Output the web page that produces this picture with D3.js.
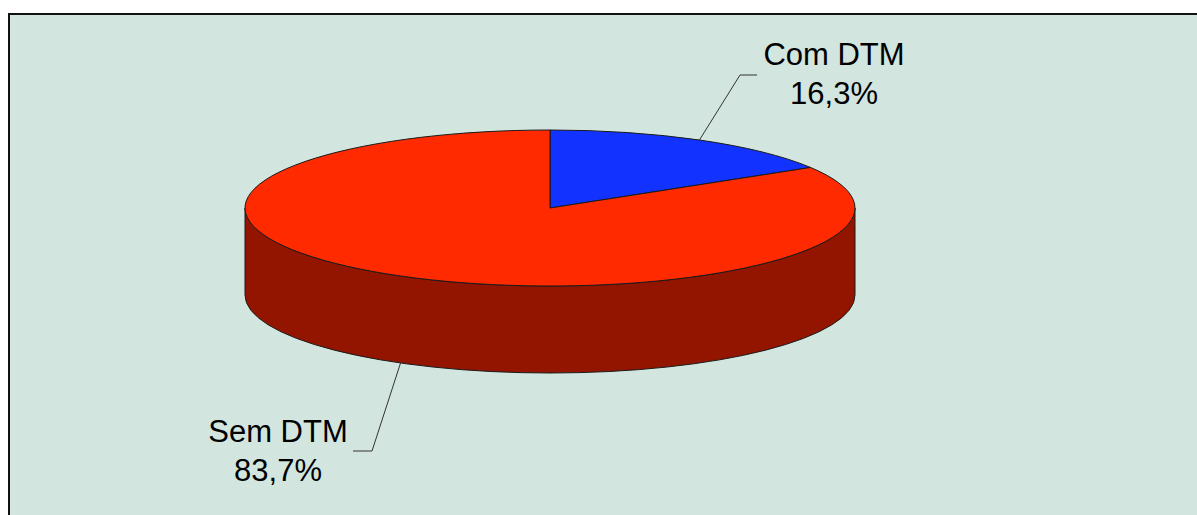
<!DOCTYPE html>
<html>
<head>
<meta charset="utf-8">
<script src="https://cdn.jsdelivr.net/npm/d3@7"></script>
<style>
  html, body { margin: 0; padding: 0; background: #ffffff; }
  svg { display: block; }
  text { font-family: "Liberation Sans", Arial, sans-serif; }
</style>
</head>
<body>
<svg id="chart" width="1197" height="515"></svg>
<script>
// Share of cases with and without DTM
const categories = ["Com DTM", "Sem DTM"];
const values = [16.3, 83.7];
const valueLabels = ["16,3%", "83,7%"];

const topColors = ["#1233FF", "#FF2A00"];
const sideColors = ["#0A1E99", "#931500"];

const W = 1197, H = 515;
const svg = d3.select("#chart");

// chart area frame
svg.append("rect")
  .attr("x", 9).attr("y", 14)
  .attr("width", W + 20).attr("height", H + 20)
  .attr("fill", "#D3E5DF")
  .attr("stroke", "#111").attr("stroke-width", 2);

// 3D pie geometry: ellipse of the top face and the thickness of the disc
const cx = 550, cy = 208, rx = 305, ry = 78, depth = 87;

const pie = d3.pie().sort(null).value(d => d.value);
const arcs = pie(categories.map((c, i) => ({ name: c, value: values[i], i })));

// angle measured clockwise from 12 o'clock
const pt = (a, dy = 0) => [cx + rx * Math.sin(a), cy - ry * Math.cos(a) + dy];

function topPath(s, e) {
  const p0 = pt(s), p1 = pt(e);
  const large = (e - s) > Math.PI ? 1 : 0;
  return `M${cx},${cy}L${p0[0]},${p0[1]}A${rx},${ry} 0 ${large} 1 ${p1[0]},${p1[1]}Z`;
}

function sidePath(s, e) {
  const a = Math.max(s, Math.PI / 2), b = Math.min(e, 3 * Math.PI / 2);
  if (b <= a) return null;
  const p0 = pt(a), p1 = pt(b), q1 = pt(b, depth), q0 = pt(a, depth);
  const large = (b - a) > Math.PI ? 1 : 0;
  return `M${p0[0]},${p0[1]}A${rx},${ry} 0 ${large} 1 ${p1[0]},${p1[1]}` +
         `L${q1[0]},${q1[1]}A${rx},${ry} 0 ${large} 0 ${q0[0]},${q0[1]}Z`;
}

const g = svg.append("g");

// outer walls (front half only)
arcs.forEach(d => {
  const p = sidePath(d.startAngle, d.endAngle);
  if (p) g.append("path").attr("d", p)
    .attr("fill", sideColors[d.data.i])
    .attr("stroke", "#1a1a1a").attr("stroke-width", 1)
    .attr("stroke-linejoin", "round");
});

// top faces
arcs.forEach(d => {
  g.append("path").attr("d", topPath(d.startAngle, d.endAngle))
    .attr("fill", topColors[d.data.i])
    .attr("stroke", "#1a1a1a").attr("stroke-width", 1)
    .attr("stroke-linejoin", "round");
});

// labels with leader lines
const labelLayout = [
  { elbow: [740, 75], end: [757, 75], tx: 834, ty: 65, onTop: true },
  { elbow: [372, 451], end: [353, 451], tx: 278, ty: 442, onTop: false }
];

arcs.forEach((d, k) => {
  const L = labelLayout[k];
  const mid = (d.startAngle + d.endAngle) / 2;
  const anchor = L.onTop ? pt(mid) : pt(mid, depth);
  svg.append("polyline")
    .attr("points", [anchor, L.elbow, L.end].map(p => p.join(",")).join(" "))
    .attr("fill", "none").attr("stroke", "#333").attr("stroke-width", 1);
  const t = svg.append("text")
    .attr("x", L.tx).attr("y", L.ty)
    .attr("text-anchor", "middle")
    .attr("font-size", 31).attr("fill", "#000");
  t.append("tspan").attr("x", L.tx).text(d.data.name);
  t.append("tspan").attr("x", L.tx).attr("dy", 39).text(valueLabels[d.data.i]);
});
</script>
</body>
</html>
